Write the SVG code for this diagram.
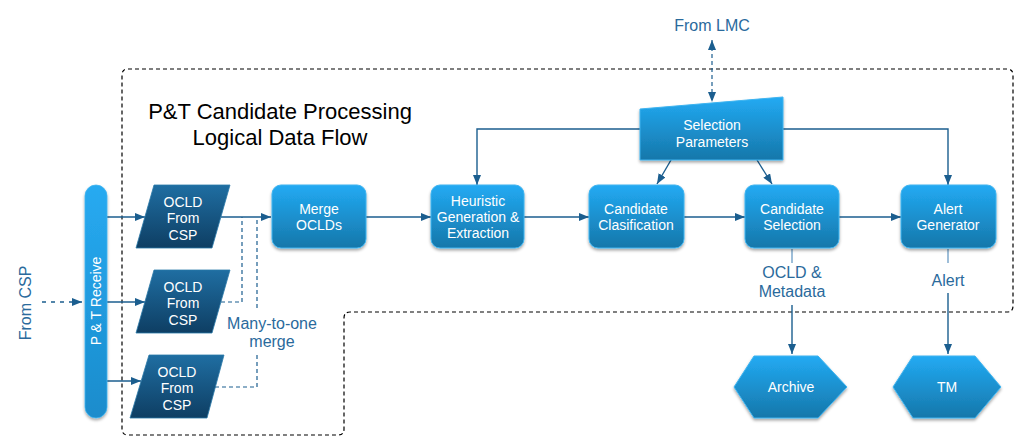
<svg xmlns="http://www.w3.org/2000/svg" width="1023" height="447" viewBox="0 0 1023 447">
<style>
.lbl{font-family:"Liberation Sans",Arial,sans-serif;font-size:16px;fill:#2a6a9c;text-anchor:middle}
.wt{font-family:"Liberation Sans",Arial,sans-serif;font-size:14px;fill:#ffffff;text-anchor:middle}
.title{font-family:"Liberation Sans",Arial,sans-serif;font-size:22px;fill:#000000;text-anchor:middle}
.box{fill:url(#gBlue);stroke:#3fb4f0;stroke-width:1;filter:url(#sh)}
.dark{fill:url(#gDark);stroke:#2a78a8;stroke-width:0.8}
.ln{fill:none;stroke:#1b5e8f;stroke-width:1.4}
.arr{marker-end:url(#ah)}
.dsh{fill:none;stroke:#1b5e8f;stroke-width:1.2;stroke-dasharray:4 3}
.light{fill:none;stroke:#86aed0;stroke-width:1.6}
</style>
<defs>
<linearGradient id="gBlue" x1="0" y1="0" x2="0" y2="1">
<stop offset="0" stop-color="#22aaf3"/>
<stop offset="1" stop-color="#1677aa"/>
</linearGradient>
<linearGradient id="gDark" x1="0" y1="0" x2="0" y2="1">
<stop offset="0" stop-color="#1f6ea2"/>
<stop offset="1" stop-color="#0e3e63"/>
</linearGradient>
<linearGradient id="gBar" x1="0" y1="0" x2="0" y2="1">
<stop offset="0" stop-color="#27aaf1"/>
<stop offset="1" stop-color="#1a8ccc"/>
</linearGradient>
<filter id="sh" x="-20%" y="-20%" width="140%" height="150%">
<feDropShadow dx="0" dy="2" stdDeviation="1.5" flood-color="#000" flood-opacity="0.35"/>
</filter>
<marker id="ah" viewBox="0 0 10 8" refX="10" refY="4" markerWidth="10" markerHeight="8" markerUnits="userSpaceOnUse" orient="auto-start-reverse">
<path d="M0,0 L10,4 L0,8 z" fill="#1b5e8f"/>
</marker>
</defs>
<rect width="1023" height="447" fill="#ffffff"/>

<g id="boundary">
<path d="M128,69 H1007 Q1013,69 1013,75 V306 Q1013,312 1007,312 H350 Q344,312 344,318 V429 Q344,435 338,435 H128 Q122,435 122,429 V75 Q122,69 128,69 Z" fill="none" stroke="#000" stroke-width="1.2" stroke-dasharray="4 3"/>
</g>

<g id="title">
<text class="title" x="280" y="119">P&amp;T Candidate Processing</text>
<text class="title" x="280" y="145">Logical Data Flow</text>
</g>

<g id="connectors">
<path class="ln arr" d="M42,302 H82" stroke-dasharray="4 5" stroke-width="2"/>
<path class="ln arr" d="M107,217 H145"/>
<path class="ln arr" d="M107,302 H145"/>
<path class="ln arr" d="M107,381 H141"/>
<path class="ln arr" d="M221,217 H271"/>
<path class="dsh" d="M221,302 H242 V217"/>
<path class="dsh" d="M215,387 H257 V352"/>
<path class="dsh" d="M257,308 V217"/>
<path class="ln arr" d="M366,217 H431"/>
<path class="ln arr" d="M524,217 H589"/>
<path class="ln arr" d="M684,217 H745"/>
<path class="ln arr" d="M839,217 H901"/>
<path class="ln arr" d="M640,129 H477 V185"/>
<path class="ln arr" d="M783,129 H948 V185"/>
<path class="ln arr" d="M671,160 L657,184"/>
<path class="ln arr" d="M757,160 L772,184"/>
<path class="dsh" d="M712,40 V102" style="marker-start:url(#ah);marker-end:url(#ah)"/>
<path class="light" d="M792,249 V263"/>
<path class="ln arr" d="M792,305 V354"/>
<path class="light" d="M948,249 V263"/>
<path class="ln arr" d="M948,293 V354"/>
</g>

<g id="labels">
<text class="lbl" transform="translate(31,303) rotate(-90)">From CSP</text>
<text class="lbl" x="712" y="31">From LMC</text>
<text class="lbl" x="272" y="329">Many-to-one</text>
<text class="lbl" x="272" y="347">merge</text>
<text class="lbl" x="792" y="278">OCLD &amp;</text>
<text class="lbl" x="792" y="297">Metadata</text>
<text class="lbl" x="948" y="286">Alert</text>
</g>

<g id="pt-receive">
<rect x="85" y="185" width="22" height="233" rx="11" fill="url(#gBar)" stroke="#3fb4f0" stroke-width="0.8" filter="url(#sh)"/>
<text class="wt" transform="translate(101,301) rotate(-90)">P &amp; T Receive</text>
</g>

<g id="ocld1">
<polygon class="dark" points="154,185 230,185 212,248 136,248"/>
<text class="wt" x="183" y="207">OCLD</text>
<text class="wt" x="183" y="223">From</text>
<text class="wt" x="183" y="240">CSP</text>
</g>
<g id="ocld2">
<polygon class="dark" points="154,270 230,270 212,333 136,333"/>
<text class="wt" x="183" y="292">OCLD</text>
<text class="wt" x="183" y="308">From</text>
<text class="wt" x="183" y="325">CSP</text>
</g>
<g id="ocld3">
<polygon class="dark" points="149,355 224,355 207,418 130,418"/>
<text class="wt" x="177" y="377">OCLD</text>
<text class="wt" x="177" y="393">From</text>
<text class="wt" x="177" y="410">CSP</text>
</g>

<g id="merge">
<rect class="box" x="272" y="185" width="94" height="63" rx="9"/>
<text class="wt" x="319" y="214">Merge</text>
<text class="wt" x="319" y="230">OCLDs</text>
</g>
<g id="heuristic">
<rect class="box" x="431" y="185" width="93" height="63" rx="9"/>
<text class="wt" x="478" y="206">Heuristic</text>
<text class="wt" x="478" y="222">Generation &amp;</text>
<text class="wt" x="478" y="238">Extraction</text>
</g>
<g id="classification">
<rect class="box" x="589" y="185" width="95" height="63" rx="9"/>
<text class="wt" x="636" y="214">Candidate</text>
<text class="wt" x="636" y="230">Clasification</text>
</g>
<g id="selection">
<rect class="box" x="745" y="185" width="94" height="63" rx="9"/>
<text class="wt" x="792" y="214">Candidate</text>
<text class="wt" x="792" y="230">Selection</text>
</g>
<g id="alert">
<rect class="box" x="901" y="185" width="95" height="63" rx="9"/>
<text class="wt" x="948" y="214">Alert</text>
<text class="wt" x="948" y="230">Generator</text>
</g>

<g id="selection-parameters">
<polygon class="box" points="640,109 783,97 783,160 640,160"/>
<text class="wt" x="712" y="130">Selection</text>
<text class="wt" x="712" y="147">Parameters</text>
</g>

<g id="archive">
<polygon class="box" points="734,387 754,356 818,356 847,387 818,418 754,418"/>
<text class="wt" x="791" y="392">Archive</text>
</g>
<g id="tm">
<polygon class="box" points="893,387 913,356 975,356 1001,387 975,418 913,418"/>
<text class="wt" x="947" y="392">TM</text>
</g>
</svg>
